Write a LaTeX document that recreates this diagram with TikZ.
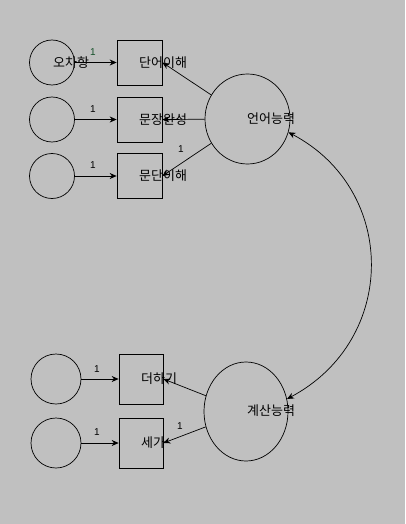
\documentclass[tikz,border=0pt]{standalone}
\usepackage{fontspec}
\newfontfamily\kr{Noto Sans CJK KR}
\newfontfamily\lab{Liberation Sans}
\usetikzlibrary{shapes.geometric,arrows.meta}
\definecolor{bg}{RGB}{192,192,192}
\definecolor{gone}{RGB}{20,80,40}
\tikzset{
  err/.style={draw,circle,inner sep=0pt,line width=0.7pt},
  obs/.style={draw,rectangle,inner sep=0pt,line width=0.7pt},
  lat/.style={draw,ellipse,inner sep=0pt,line width=0.7pt},
  txt/.style={anchor=west,inner sep=0pt,font=\kr\fontsize{13}{13}\selectfont},
  one/.style={inner sep=0pt,font=\lab\fontsize{10}{10}\selectfont},
  arr/.style={line width=0.7pt,-{Stealth[length=7pt,width=6pt]}},
  darr/.style={line width=0.7pt,{Stealth[length=7pt,width=6pt]}-{Stealth[length=7pt,width=6pt]}}
}
\begin{document}
\begin{tikzpicture}[x=1pt,y=-1pt]
\fill[bg] (0,0) rectangle (405,524);
\useasboundingbox (0,0) rectangle (405,524);
% error circles
\node[err,minimum size=45pt] (e1) at (52,62.5) {};
\node[err,minimum size=45pt] (e2) at (52,119.5) {};
\node[err,minimum size=45pt] (e3) at (52,176) {};
\node[err,minimum size=50pt] (e4) at (56,379) {};
\node[err,minimum size=50pt] (e5) at (56,443) {};
% observed boxes
\node[obs,minimum width=45pt,minimum height=45pt] (b1) at (139.5,62.5) {};
\node[obs,minimum width=45pt,minimum height=45pt] (b2) at (139.5,119.5) {};
\node[obs,minimum width=45pt,minimum height=45pt] (b3) at (139.5,176) {};
\node[obs,minimum width=44pt,minimum height=50pt] (b4) at (141,379) {};
\node[obs,minimum width=44pt,minimum height=50pt] (b5) at (141,443) {};
% latent
\node[lat,minimum width=85pt,minimum height=90pt] (f1) at (247.5,119) {};
\node[lat,minimum width=84pt,minimum height=99pt] (f2) at (246,411.5) {};
% arrows
\draw[arr] (e1) -- (b1);
\draw[arr] (e2) -- (b2);
\draw[arr] (e3) -- (b3);
\draw[arr] (e4) -- (b4);
\draw[arr] (e5) -- (b5);
\draw[arr] (f1) -- (b1.east);
\draw[arr] (f1) -- (b2.east);
\draw[arr] (f1) -- (b3.east);
\draw[arr] (f2) -- (b4.east);
\draw[arr] (f2) -- (b5.east);
\draw[darr] (f1.-18) .. controls (398,190) and (398,340) .. (f2.17);
% labels
\node[txt] (t1) at (53,63) {오차항};
\node[txt] (t2) at (139,63) {단어이해};
\node[txt] (t3) at (139,119.5) {문장완성};
\node[txt] (t4) at (139,176) {문단이해};
\node[txt] (t5) at (247,119) {언어능력};
\node[txt] (t6) at (141,379) {더하기};
\node[txt] (t7) at (141,443) {세가};
\node[txt] (t8) at (247,411) {계산능력};
% ones
\node[one,text=gone] (o1) at (93,52) {1};
\node[one] (o2) at (93,109) {1};
\node[one] (o3) at (93,165) {1};
\node[one] (o4) at (181,149) {1};
\node[one] (o5) at (97,369) {1};
\node[one] (o6) at (97,432) {1};
\node[one] (o7) at (180,426) {1};
\end{tikzpicture}
\end{document}
